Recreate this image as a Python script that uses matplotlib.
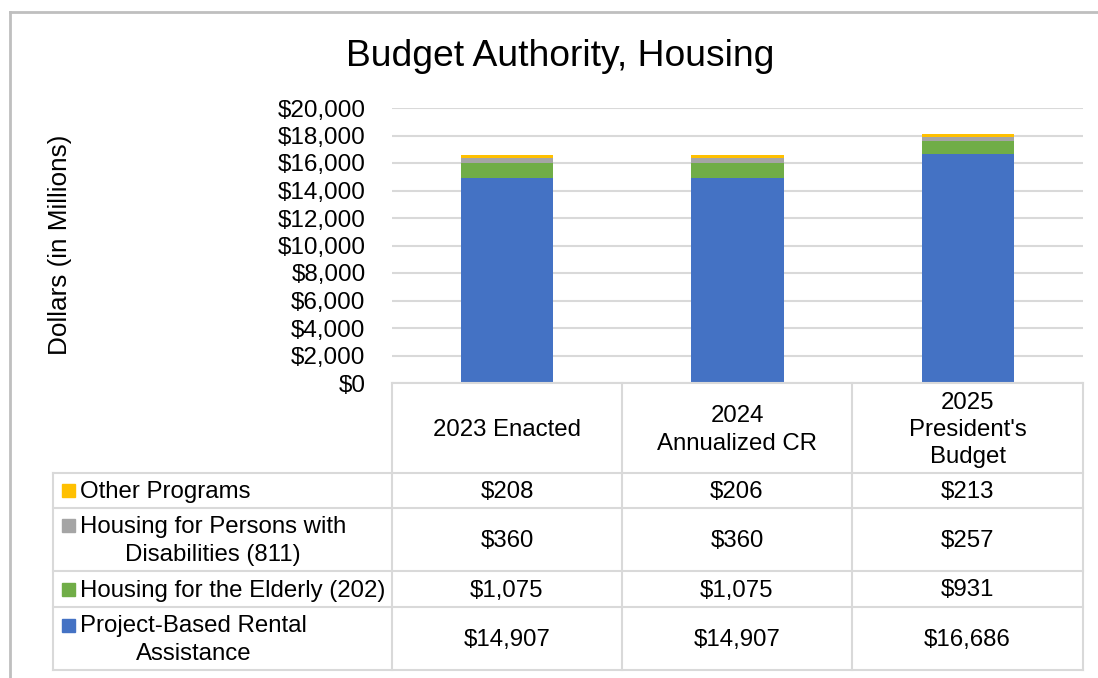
import matplotlib
matplotlib.use("Agg")
import matplotlib.pyplot as plt
from matplotlib.lines import Line2D
from matplotlib.patches import Rectangle

plt.rcParams['font.family'] = ['Liberation Sans', 'DejaVu Sans']

# ---- data ----
categories = ["2023 Enacted", "2024\nAnnualized CR", "2025\nPresident's\nBudget"]
series_names = ["Project-Based Rental\nAssistance", "Housing for the Elderly (202)",
                "Housing for Persons with\nDisabilities (811)", "Other Programs"]
pbra = [14907, 14907, 16686]
elderly = [1075, 1075, 931]
disabilities = [360, 360, 257]
other = [208, 206, 213]
series_values = [pbra, elderly, disabilities, other]
colors = ["#4472C4", "#70AD47", "#A5A5A5", "#FFC000"]
yticks = list(range(0, 20001, 2000))

W, H = 1098, 678
fig = plt.figure(figsize=(W / 100, H / 100), dpi=100)

def fx(px):
    return px / W

def fy(py):
    return 1 - py / H

FS = 17.3

# plot area
L, R, T, B = 392, 1083, 108, 383
ax = fig.add_axes([fx(L), fy(B), fx(R) - fx(L), fy(T) - fy(B)])
x = list(range(len(categories)))
bottom = [0, 0, 0]
for vals, c in zip(series_values, colors):
    ax.bar(x, vals, width=0.4, bottom=bottom, color=c, zorder=3)
    bottom = [b + v for b, v in zip(bottom, vals)]
ax.set_xlim(-0.5, 2.5)
ax.set_ylim(0, 20000)
ax.set_yticks(yticks)
ax.set_yticklabels([f"${v:,}" for v in yticks], fontsize=17.5)
ax.tick_params(axis='y', length=0, pad=19)
ax.set_xticks([])
ax.grid(axis='y', color='#d9d9d9', linewidth=1.5, zorder=0)
for s in ax.spines.values():
    s.set_visible(False)

# title and y label
fig.text(fx(560), fy(56), "Budget Authority, Housing", fontsize=26.8, ha='center', va='center')
fig.text(fx(60), fy(245), "Dollars (in Millions)", fontsize=18.8, rotation=90, ha='center', va='center')

# outer frame
fcol = '#bfbfbf'
fig.add_artist(Line2D([fx(10), fx(1098)], [fy(12), fy(12)], color=fcol, lw=2))
fig.add_artist(Line2D([fx(10), fx(10)], [fy(12), fy(678)], color=fcol, lw=2))

# data table
gcol = '#d9d9d9'
col_x = [392, 622, 852, 1083]
row_y = [473, 508, 571, 607, 670]
for cx in col_x:
    fig.add_artist(Line2D([fx(cx), fx(cx)], [fy(383), fy(670)], color=gcol, lw=1.5))
fig.add_artist(Line2D([fx(53), fx(53)], [fy(473), fy(670)], color=gcol, lw=1.5))
fig.add_artist(Line2D([fx(392), fx(1083)], [fy(383), fy(383)], color=gcol, lw=1.5))
for ry in row_y:
    fig.add_artist(Line2D([fx(53), fx(1083)], [fy(ry), fy(ry)], color=gcol, lw=1.5))

# header
for i, cat in enumerate(categories):
    cxm = (col_x[i] + col_x[i + 1]) / 2
    fig.text(fx(cxm), fy(430), cat, fontsize=FS, ha='center', va='center',
             multialignment='center', linespacing=1.3)

# rows (top to bottom: other, disabilities, elderly, pbra)
row_order = [3, 2, 1, 0]
first_line_y = [490, 525, 589, 625]
for r, si in enumerate(row_order):
    y0, y1 = row_y[r], row_y[r + 1]
    ym = (y0 + y1) / 2 + 1.5
    fig.add_artist(Rectangle((fx(62), fy(first_line_y[r] + 6.5)), 13 / W, 13 / H,
                             color=colors[si], transform=fig.transFigure))
    name = series_names[si]
    fig.text(fx(80), fy(ym), name, fontsize=FS, ha='left', va='center',
             multialignment='center', linespacing=1.3)
    for i in range(len(categories)):
        cxm = (col_x[i] + col_x[i + 1]) / 2
        fig.text(fx(cxm), fy(ym), f"${series_values[si][i]:,}", fontsize=FS,
                 ha='center', va='center')

fig.savefig("out.png", dpi=100)
